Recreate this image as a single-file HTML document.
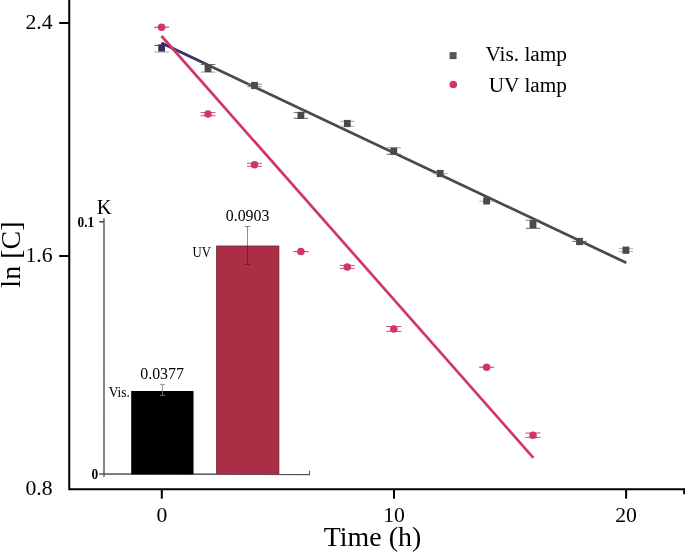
<!DOCTYPE html>
<html lang="en"><head><meta charset="utf-8"><title>ln[C] vs Time</title>
<style>
html,body{margin:0;padding:0;background:#fff;}
body{width:685px;height:552px;overflow:hidden;}
svg{display:block;}
text{font-family:"Liberation Serif","DejaVu Serif",serif;fill:#000;filter:grayscale(1);}
</style></head><body>
<svg width="685" height="552" viewBox="0 0 685 552">
<rect width="685" height="552" fill="#fff"/>

<g stroke="#000" stroke-width="2" fill="none">
<path d="M69.25 0 V489.2 H685"/>
<path d="M59.2 23.0 H69.2 M59.2 256.0 H69.2"/>
<path d="M161.8 489.2 V498.7"/>
<path d="M394.0 489.2 V498.7"/>
<path d="M626.1 489.2 V498.7"/>
<path d="M684.2 489.2 V494.3"/>
</g>
<g font-size="21.7px">
<text x="52.5" y="29.1" text-anchor="end">2.4</text>
<text x="52.5" y="262.0" text-anchor="end">1.6</text>
<text x="52.5" y="495.2" text-anchor="end">0.8</text>
<text x="161.8" y="521.5" text-anchor="middle">0</text>
<text x="394.0" y="521.5" text-anchor="middle">10</text>
<text x="626.1" y="521.5" text-anchor="middle">20</text>
</g>
<text x="372.5" y="545.8" font-size="27.9px" text-anchor="middle">Time (h)</text>
<text transform="translate(20.2 254.6) rotate(-90)" font-size="28px" text-anchor="middle">ln [C]</text>
<g stroke="#5c5c5c" stroke-width="1.15" fill="none">
<path d="M104 218.2 V476.8" stroke="#868686" stroke-width="2"/><path d="M99.2 474.0 L310 474.4" stroke="#555" stroke-width="1.6"/>
<path d="M99.3 221.8 H104" stroke="#444" stroke-width="1.5"/>
<path d="M309.5 470.8 V475" stroke="#555" stroke-width="1.1"/>
</g>
<path d="M103 272.3 H104.3 M103 322.8 H104.3 M103 373.2 H104.3 M103 423.6 H104.3" stroke="#555" stroke-width="1" stroke-opacity="0.6"/>
<rect x="131.2" y="391" width="62.3" height="83.4" fill="#000"/>
<rect x="216.3" y="245.8" width="62.8" height="228.5" fill="#AB2E47"/>
<path d="M216.5 474 V246 H278.9 V474" stroke="#5e2c38" stroke-width="0.6" fill="none"/>
<path d="M162.5 384.6 V395.4 M160 384.6 H165.1 M160 395.4 H165.1" stroke="#808080" stroke-width="0.8" fill="none"/>
<path d="M247.5 226.5 V264.5 M244.7 226.5 H250.4 M244.7 264.5 H250.4" stroke="#1a1a1a" stroke-opacity="0.66" stroke-width="0.75" fill="none"/>
<text x="104.1" y="213.5" font-size="20.6px" text-anchor="middle">K</text>
<text transform="translate(94.2 226.8) scale(0.915 1)" font-size="14.6px" font-weight="bold" text-anchor="end">0.1</text>
<text transform="translate(98.3 478.9) scale(0.915 1)" font-size="14.6px" font-weight="bold" text-anchor="end">0</text>
<text transform="translate(247.6 220.7) scale(0.955 1)" font-size="16.6px" text-anchor="middle">0.0903</text>
<text transform="translate(162.1 378.9) scale(0.955 1)" font-size="16.6px" text-anchor="middle">0.0377</text>
<text transform="translate(210.9 256.8) scale(0.88 1)" font-size="14.5px" text-anchor="end">UV</text>
<text transform="translate(129.9 396.5) scale(0.92 1)" font-size="14.6px" text-anchor="end">Vis.</text>
<path d="M161.5 43 L626.3 262.8" stroke="#4A4A4A" stroke-width="2.7" fill="none"/>
<defs><linearGradient id="pg" gradientUnits="userSpaceOnUse" x1="161.5" y1="43" x2="207" y2="64.5"><stop offset="0" stop-color="#432F6B"/><stop offset="0.72" stop-color="#432F6B"/><stop offset="1" stop-color="#4A4A4A"/></linearGradient></defs><path d="M161.5 43 L207 64.5" stroke="url(#pg)" stroke-width="2.4" fill="none"/>
<path d="M161.5 36 L533.4 457.8" stroke="#D1366A" stroke-width="2.7" fill="none"/>
<path d="M154.4 45.3 H168.8" stroke="#402D66" stroke-width="0.9"/>
<path d="M154.4 52.0 H168.8" stroke="#b7b4c2" stroke-width="1.3"/>
<rect x="158.2" y="44.4" width="6.8" height="7.2" fill="#402D66"/>
<path d="M200.8 64.5 H215.2" stroke="#5a5a5a" stroke-width="0.9"/>
<path d="M200.8 72.1 H215.2" stroke="#b0adc2" stroke-width="1.3"/>
<rect x="204.6" y="64.5" width="6.8" height="7.6" fill="#4A4A4A"/>
<path d="M247.3 84.3 H261.7" stroke="#777" stroke-width="0.9"/>
<path d="M247.3 86.7 H261.7" stroke="#888" stroke-width="1"/>
<rect x="251.1" y="81.9" width="6.8" height="7.2" fill="#4A4A4A"/>
<path d="M293.7 112.6 H308.1" stroke="#666" stroke-width="0.9"/>
<path d="M293.7 118.3 H308.1" stroke="#666" stroke-width="1"/>
<rect x="297.5" y="111.8" width="6.8" height="7.2" fill="#4A4A4A"/>
<path d="M340.1 121.3 H354.5" stroke="#999" stroke-width="0.9"/>
<path d="M340.1 126.1 H354.5" stroke="#bdbdbd" stroke-width="1"/>
<rect x="343.9" y="119.9" width="6.8" height="7.2" fill="#4A4A4A"/>
<path d="M386.6 147.8 H401.0" stroke="#999" stroke-width="0.9"/>
<path d="M386.6 154.3 H401.0" stroke="#666" stroke-width="1"/>
<rect x="390.4" y="147.5" width="6.8" height="7.2" fill="#4A4A4A"/>
<path d="M433.0 173.7 H447.4" stroke="#aaa" stroke-width="1"/>
<rect x="436.8" y="169.9" width="6.8" height="7.2" fill="#4A4A4A"/>
<path d="M479.4 201.2 H493.8" stroke="#aaa" stroke-width="1"/>
<rect x="483.2" y="197.3" width="6.8" height="7.2" fill="#4A4A4A"/>
<path d="M525.8 220.2 H540.2" stroke="#666" stroke-width="0.9"/>
<path d="M525.8 228.3 H540.2" stroke="#666" stroke-width="1"/>
<rect x="529.6" y="220.1" width="6.8" height="8.1" fill="#4A4A4A"/>
<path d="M572.3 241.4 H586.7" stroke="#666" stroke-width="1"/>
<rect x="576.1" y="237.9" width="6.8" height="7.2" fill="#4A4A4A"/>
<path d="M618.7 248.7 H633.1" stroke="#aaa" stroke-width="0.9"/>
<path d="M618.7 251.7 H633.1" stroke="#aaa" stroke-width="1"/>
<rect x="622.5" y="246.6" width="6.8" height="7.2" fill="#4A4A4A"/>
<path d="M154.1 27.2 H169.1" stroke="#D1366A" stroke-width="1.1"/>
<circle cx="161.6" cy="27.2" r="3.75" fill="#D1366A"/>
<path d="M200.5 112.6 H215.5 M200.5 115.7 H215.5" stroke="#D1366A" stroke-width="0.9"/>
<circle cx="208.0" cy="114.1" r="3.75" fill="#D1366A"/>
<path d="M247.0 163.3 H262.0 M247.0 166.3 H262.0" stroke="#D1366A" stroke-width="0.9"/>
<circle cx="254.5" cy="164.8" r="3.75" fill="#D1366A"/>
<path d="M293.4 251.6 H308.4" stroke="#D1366A" stroke-width="1.1"/>
<circle cx="300.9" cy="251.6" r="3.75" fill="#D1366A"/>
<path d="M339.8 265.4 H354.8 M339.8 268.4 H354.8" stroke="#D1366A" stroke-width="0.9"/>
<circle cx="347.3" cy="266.9" r="3.75" fill="#D1366A"/>
<path d="M386.3 326.5 H401.3 M386.3 331.4 H401.3" stroke="#D1366A" stroke-width="0.9"/>
<circle cx="393.8" cy="329.0" r="3.75" fill="#D1366A"/>
<path d="M479.1 367.2 H494.1" stroke="#D1366A" stroke-width="1.1"/>
<circle cx="486.6" cy="367.2" r="3.75" fill="#D1366A"/>
<path d="M525.5 433.0 H540.5 M525.5 437.4 H540.5" stroke="#D1366A" stroke-width="0.9"/>
<circle cx="533.0" cy="435.2" r="3.75" fill="#D1366A"/>
<rect x="449.6" y="52.1" width="7" height="7" fill="#555"/>
<circle cx="453.3" cy="84.5" r="3.8" fill="#D1366A"/>
<text x="567" y="60.9" font-size="21.3px" text-anchor="end">Vis. lamp</text>
<text x="567" y="92" font-size="21.3px" text-anchor="end">UV lamp</text>
</svg></body></html>
